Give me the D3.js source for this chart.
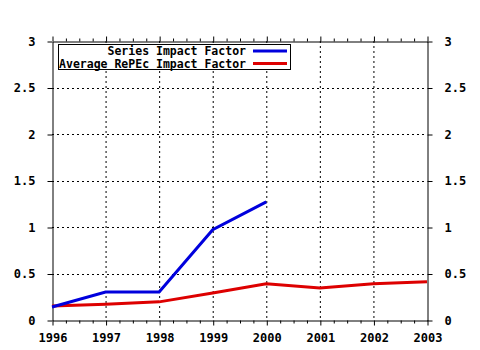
<!DOCTYPE html>
<html><head><meta charset="utf-8">
<script src="https://cdn.jsdelivr.net/npm/d3@7"></script>
<style>body{margin:0;background:#fff}svg{display:block}</style>
</head><body>
<svg id="c" width="480" height="350"></svg>
<script>
const years = [1996,1997,1998,1999,2000,2001,2002,2003];
const seriesIF = [0.14,0.30,0.30,0.97,1.27];
const avgIF = [0.15,0.17,0.195,0.29,0.39,0.345,0.39,0.41];
const yTicks = [0,0.5,1,1.5,2,2.5,3];
const yTickLabels = ["0","0.5","1","1.5","2","2.5","3"];
const seriesNames = ["Series Impact Factor","Average RePEc Impact Factor"];
const seriesColors = ["#0000dd","#dd0000"];

const svg = d3.select("#c");
const font = "'DejaVu Sans Mono', monospace";
const x = d3.scaleLinear().domain([1996,2003]).range([52,427]);
const y = d3.scaleLinear().domain([0,3]).range([320,41]);

// grid
const g = svg.append("g");
g.selectAll(".vg").data(years.slice(1,-1)).enter().append("line")
  .attr("x1",d=>x(d)+0.5).attr("x2",d=>x(d)+0.5).attr("y1",y(3)).attr("y2",y(0))
  .attr("stroke","#000").attr("stroke-dasharray","2,3").attr("stroke-width",1);
g.selectAll(".hg").data(yTicks.slice(1,-1)).enter().append("line")
  .attr("y1",d=>Math.round(y(d))+0.5).attr("y2",d=>Math.round(y(d))+0.5).attr("x1",x(1996)).attr("x2",x(2003))
  .attr("stroke","#000").attr("stroke-dasharray","2,3").attr("stroke-width",1);

// minor ticks
const minor = [];
for (let i=0;i<years.length-1;i++) for (let k=1;k<4;k++) minor.push(years[i]+k/4);

// axes
const fmt = (d,i)=>yTickLabels[i];
const axB = svg.append("g").attr("transform",`translate(0.5,${Math.round(y(0))+0.5})`)
  .call(d3.axisBottom(x).tickValues(years).tickFormat(d3.format("d")).tickSize(5).tickSizeOuter(0));
const axT = svg.append("g").attr("transform",`translate(0.5,${Math.round(y(3))+0.5})`)
  .call(d3.axisTop(x).tickValues(years).tickFormat("").tickSize(5).tickSizeOuter(0));
svg.append("g").attr("transform",`translate(0.5,${Math.round(y(0))+0.5})`)
  .call(d3.axisBottom(x).tickValues(minor).tickFormat("").tickSize(3)).select(".domain").remove();
svg.append("g").attr("transform",`translate(0.5,${Math.round(y(3))+0.5})`)
  .call(d3.axisTop(x).tickValues(minor).tickFormat("").tickSize(3)).select(".domain").remove();
const axL = svg.append("g").attr("transform",`translate(${x(1996)+0.5},0.5)`)
  .call(d3.axisLeft(y).tickValues(yTicks).tickFormat(fmt).tickSize(5).tickSizeOuter(0));
const axR = svg.append("g").attr("transform",`translate(${x(2003)+0.5},0.5)`)
  .call(d3.axisRight(y).tickValues(yTicks).tickFormat(fmt).tickSize(5).tickSizeOuter(0));
svg.selectAll(".tick line, .domain").attr("stroke","#000");
svg.selectAll(".tick text").attr("font-family",font).attr("font-weight","bold").attr("font-size","12px").attr("fill","#000");
axB.selectAll(".tick text").attr("dy","1.1em");
axL.selectAll(".tick text").attr("x",-17);
axR.selectAll(".tick text").attr("x",17);

// lines
const line = d3.line().x((d,i)=>x(years[i])).y(d=>y(d));
svg.append("path").datum(avgIF).attr("d",line).attr("fill","none")
  .attr("stroke",seriesColors[1]).attr("stroke-width",3);
svg.append("path").datum(seriesIF).attr("d",line).attr("fill","none")
  .attr("stroke",seriesColors[0]).attr("stroke-width",3);

// legend
const lg = svg.append("g");
lg.append("rect").attr("x",58.5).attr("y",44.5).attr("width",232).attr("height",25)
  .attr("fill","#fff").attr("stroke","#000");
seriesNames.forEach((n,i)=>{
  const yy = 51 + i*12.5;
  lg.append("text").attr("x",246).attr("y",yy+4).attr("text-anchor","end")
    .attr("font-family",font).attr("font-weight","bold").attr("font-size","11.5px").text(n);
  lg.append("line").attr("x1",253).attr("x2",287).attr("y1",yy).attr("y2",yy)
    .attr("stroke",seriesColors[i]).attr("stroke-width",3);
});
</script>
</body></html>
